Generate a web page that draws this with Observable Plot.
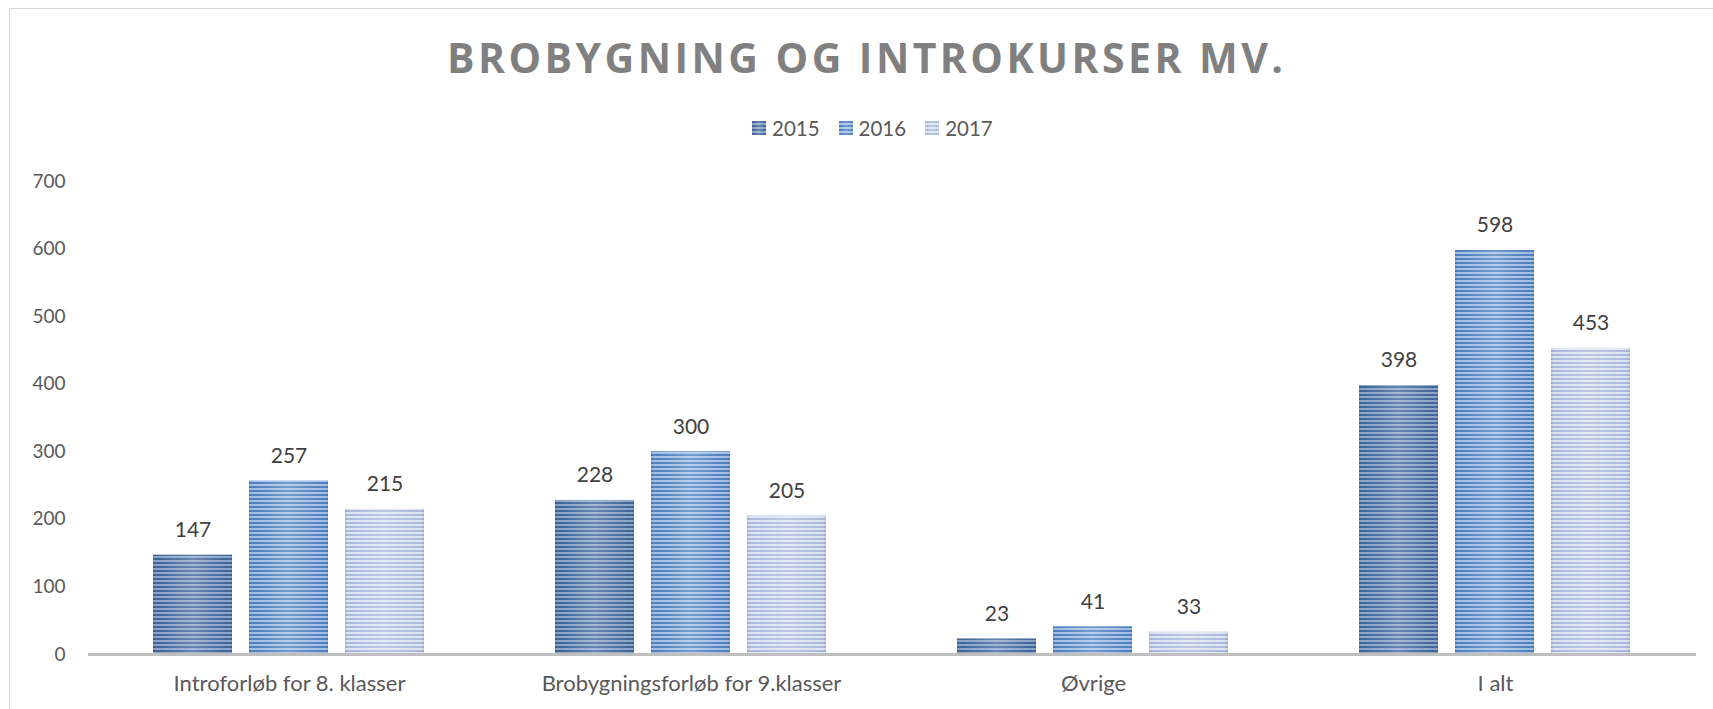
<!DOCTYPE html>
<html>
<head>
<meta charset="utf-8">
<script src="https://cdn.jsdelivr.net/npm/d3@7"></script>
<script src="https://cdn.jsdelivr.net/npm/@observablehq/plot@0.6"></script>
<style>
  html, body { margin: 0; padding: 0; background: #fff; width: 1713px; height: 709px; overflow: hidden; }
  #frame { position: absolute; left: 9px; top: 8px; width: 1800px; height: 800px; border: 1px solid #d9d9d9; box-sizing: border-box; }
  #title { position: absolute; top: 37px; left: 447px; font-family: "Open Sans", sans-serif; font-weight: 700; font-size: 41px; line-height: 1; color: #808080; white-space: nowrap; }
  #legend { position: absolute; top: 118px; left: 752px; display: flex; align-items: center; font-family: Lato, sans-serif; font-size: 20.5px; line-height: 1; color: #595959; }
  #legend .item { display: flex; align-items: center; margin-right: 19px; }
  #legend svg { display: block; margin-right: 6px; }
  #chart { position: absolute; left: 0; top: 150px; }
</style>
</head>
<body>
<div id="frame"></div>
<div id="title"></div>
<div id="legend"></div>
<div id="chart"></div>
<script>
// ---- data ----
const titleText = "BROBYGNING OG INTROKURSER MV.";
const categories = ["Introforløb for 8. klasser", "Brobygningsforløb for 9.klasser", "Øvrige", "I alt"];
const years = ["2015", "2016", "2017"];
const values2015 = [147, 228, 23, 398];
const values2016 = [257, 300, 41, 598];
const values2017 = [215, 205, 33, 453];
const yTicks = [0, 100, 200, 300, 400, 500, 600, 700];

const seriesValues = {"2015": values2015, "2016": values2016, "2017": values2017};
const rows = [];
categories.forEach((c, i) => years.forEach(y => rows.push({category: c, year: y, value: seriesValues[y][i]})));

// stripe colours (dark, light) per year
const stripes = {
  "2015": ["#3f6598", "#8ba5ca"],
  "2016": ["#4c7fc0", "#a6c0e4"],
  "2017": ["#aab9db", "#dde4f2"]
};

// ---- title ----
const titleEl = document.getElementById("title");
titleEl.textContent = titleText;
{
  const ctx = document.createElement("canvas").getContext("2d");
  ctx.font = '700 41px "Open Sans"';
  const w = ctx.measureText(titleText).width;
  const target = 836;
  const ls = (target - w) / (titleText.length - 1);
  titleEl.style.letterSpacing = ls + "px";
}

// ---- chart ----
const chart = Plot.plot({
  width: 1713,
  height: 559,
  marginLeft: 86,
  marginRight: 16,
  marginTop: 31,
  marginBottom: 55,
  style: {fontFamily: "Lato, sans-serif", fontSize: "19px", color: "#595959", background: "transparent", overflow: "visible"},
  facet: {data: rows, x: "category"},
  fx: {domain: categories, padding: 0, axis: "bottom", tickSize: 0, tickPadding: 21, label: null},
  x: {domain: years, paddingInner: 0.176, paddingOuter: 0.675, axis: null},
  y: {domain: [0, 700], ticks: yTicks, tickSize: 0, tickPadding: 23, label: null},
  color: {type: "identity"},
  marks: [
    Plot.barY(rows, {x: "year", y: "value", fill: d => `url(#pat${d.year})`}),
    Plot.barY(rows, {x: "year", y: "value", fill: "url(#shade)"}),
    Plot.ruleY([0], {stroke: "#bfbfbf", strokeWidth: 3}),
    Plot.text(rows, {x: "year", y: "value", text: d => String(d.value), dy: -25, fontSize: 21, fill: "#404040"})
  ]
});

const svg = d3.select(chart);
svg.selectAll('g[aria-label^="fx-axis"] text').style("font-size", "22px");
const defs = svg.insert("defs", ":first-child");
years.forEach(y => {
  const p = defs.append("pattern").attr("id", "pat" + y).attr("patternUnits", "userSpaceOnUse")
    .attr("width", 8).attr("height", 4);
  p.append("rect").attr("width", 8).attr("height", 4).attr("fill", stripes[y][1]);
  p.append("rect").attr("width", 8).attr("height", 2).attr("fill", stripes[y][0]);
});
const g = defs.append("linearGradient").attr("id", "shade").attr("x1", 0).attr("x2", 1).attr("y1", 0).attr("y2", 0);
[[0, "#000", 0.10], [0.06, "#fff", 0], [0.5, "#fff", 0.22], [0.94, "#fff", 0], [1, "#000", 0.10]].forEach(([o, c, a]) =>
  g.append("stop").attr("offset", o).attr("stop-color", c).attr("stop-opacity", a));

document.getElementById("chart").appendChild(chart);

// ---- legend ----
const legend = d3.select("#legend");
years.forEach(y => {
  const item = legend.append("div").attr("class", "item");
  const s = item.append("svg").attr("width", 14).attr("height", 14);
  s.append("rect").attr("width", 14).attr("height", 14).attr("fill", `url(#pat${y})`);
  s.append("rect").attr("width", 14).attr("height", 14).attr("fill", "url(#shade)");
  item.append("span").text(y);
});
</script>
</body>
</html>
